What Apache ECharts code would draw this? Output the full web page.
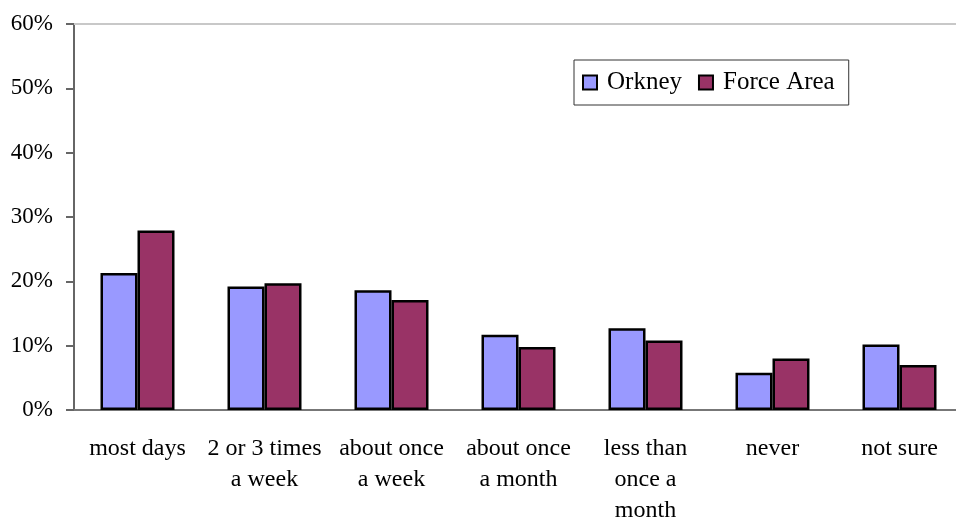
<!DOCTYPE html>
<html>
<head>
<meta charset="utf-8">
<script src="https://cdn.jsdelivr.net/npm/echarts@6/dist/echarts.min.js"></script>
<style>
  html, body { margin: 0; padding: 0; background: #fff; }
  #chart { width: 956px; height: 521px; }
</style>
</head>
<body>
<div id="chart"></div>
<script>
var categories = ['most days', '2 or 3 times\na week', 'about once\na week', 'about once\na month', 'less than\nonce a\nmonth', 'never', 'not sure']
var orkney = [21.3, 19.2, 18.6, 11.7, 12.7, 5.8, 10.2]
var forceArea = [27.9, 19.7, 17.1, 9.8, 10.8, 8.0, 7.0]
var yTicks = [0, 10, 20, 30, 40, 50, 60]

var font = 'Liberation Serif'
var chart = echarts.init(document.getElementById('chart'))
var option = {
  animation: false,
  textStyle: { fontFamily: font, color: '#000' },
  legend: {
    left: 574,
    top: 60,
    orient: 'horizontal',
    icon: 'rect',
    borderColor: '#333',
    borderWidth: 1,
    padding: [10, 14, 10, 8],
    itemWidth: 14,
    itemHeight: 14,
    itemGap: 16,
    textStyle: { fontFamily: font, fontSize: 25, color: '#000', padding: [0, 0, 0, 5] },
    data: ['Orkney', 'Force Area']
  },
  grid: { left: 74, top: 24, width: 889, height: 386, outerBoundsMode: 'none', containLabel: false },
  xAxis: [{
    type: 'category',
    data: categories,
    axisLine: { lineStyle: { color: '#777', width: 2 } },
    axisTick: { length: 7, lineStyle: { color: '#777', width: 2 } },
    axisLabel: { fontFamily: font, fontSize: 24, color: '#000', margin: 23, lineHeight: 31, interval: 0 }
  }, {
    type: 'category',
    position: 'top',
    data: categories,
    axisLine: { lineStyle: { color: '#c8c8c8', width: 2 } },
    axisTick: { show: false },
    axisLabel: { show: false }
  }],
  yAxis: {
    type: 'value',
    min: yTicks[0],
    max: yTicks[yTicks.length - 1],
    interval: 10,
    axisLine: { show: true, lineStyle: { color: '#666', width: 2 } },
    axisTick: { show: true, length: 8, lineStyle: { color: '#666', width: 2 } },
    splitLine: { show: false },
    axisLabel: { fontFamily: font, fontSize: 23, color: '#000', margin: 21, formatter: '{value}%' }
  },
  series: [{
    name: 'Orkney',
    type: 'bar',
    data: orkney,
    barWidth: 37,
    barGap: '0%',
    itemStyle: { color: '#9999FF', borderColor: '#000', borderWidth: 2.5 }
  }, {
    name: 'Force Area',
    type: 'bar',
    data: forceArea,
    barWidth: 37,
    barGap: '0%',
    itemStyle: { color: '#993366', borderColor: '#000', borderWidth: 2.5 }
  }]
}
chart.setOption(option)
</script>
</body>
</html>
